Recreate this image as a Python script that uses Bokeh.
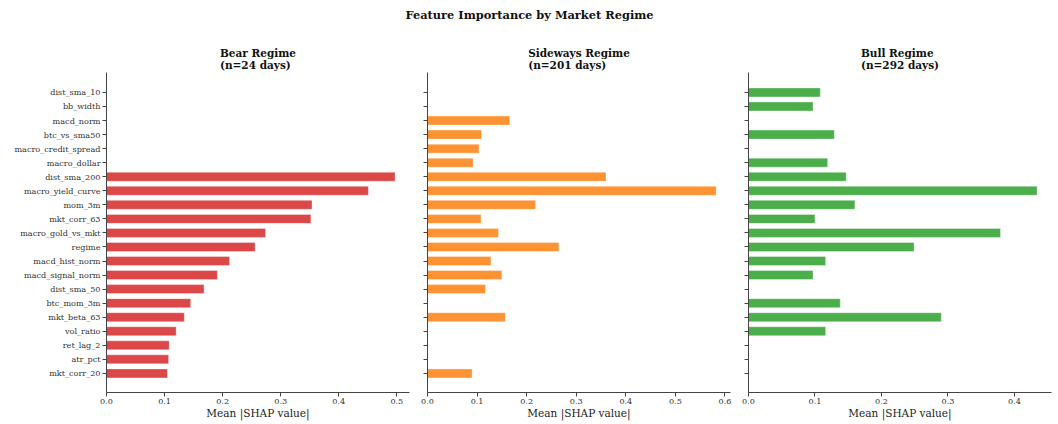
from bokeh.plotting import figure
from bokeh.layouts import column, row
from bokeh.models import Range1d, FixedTicker
from bokeh.embed import file_html
from bokeh.resources import INLINE

features = ["dist_sma_10", "bb_width", "macd_norm", "btc_vs_sma50", "macro_credit_spread",
            "macro_dollar", "dist_sma_200", "macro_yield_curve", "mom_3m", "mkt_corr_63",
            "macro_gold_vs_mkt", "regime", "macd_hist_norm", "macd_signal_norm", "dist_sma_50",
            "btc_mom_3m", "mkt_beta_63", "vol_ratio", "ret_lag_2", "atr_pct", "mkt_corr_20"]

bear_vals = [None, None, None, None, None, None, 0.497, 0.451, 0.354, 0.352, 0.274, 0.256,
             0.212, 0.191, 0.168, 0.145, 0.134, 0.120, 0.108, 0.107, 0.105]
sideways_vals = [None, None, 0.166, 0.109, 0.104, 0.092, 0.360, 0.582, 0.218, 0.108, 0.143,
                 0.265, 0.128, 0.150, 0.117, None, 0.157, None, None, None, 0.090]
bull_vals = [0.108, 0.097, None, 0.129, None, 0.119, 0.147, 0.434, 0.160, 0.100, 0.379,
             0.249, 0.116, 0.097, None, 0.138, 0.290, 0.116, None, None, None]

panels = [
    ("Bear Regime", "(n=24 days)", bear_vals, "#d62728"),
    ("Sideways Regime", "(n=201 days)", sideways_vals, "#ff7f0e"),
    ("Bull Regime", "(n=292 days)", bull_vals, "#2ca02c"),
]
suptitle = "Feature Importance by Market Regime"
xlabel = "Mean |SHAP value|"

FONT = "DejaVu Serif"
n = len(features)
ypos = [n - 1 - i for i in range(n)]
label_map = {n - 1 - i: f for i, f in enumerate(features)}

figs = []
for k, (t1, t2, vals, color) in enumerate(panels):
    vmax = max(v for v in vals if v is not None)
    left = 106 if k == 0 else 9
    right = 7 if k == 2 else 9
    p = figure(frame_width=303, frame_height=320,
               min_border_left=left, min_border_right=right,
               min_border_top=48, min_border_bottom=10,
               x_range=Range1d(0, vmax * 1.05), y_range=Range1d(-1.36, n - 1 + 1.42),
               title=t1 + "\n" + t2,
               output_backend="svg", toolbar_location=None, tools="")
    xs = [v for v in vals if v is not None]
    ys = [ypos[i] for i, v in enumerate(vals) if v is not None]
    p.hbar(y=ys, right=xs, left=0, height=0.64, fill_color=color, fill_alpha=0.85,
           line_color="white", line_width=0.6, line_alpha=0.6)
    p.title.align = "center"
    p.title.text_font = FONT
    p.title.text_font_size = "10.5px"
    p.title.text_font_style = "bold"
    p.title.text_color = "#111111"
    p.title.text_line_height = 1.0
    p.title.standoff = 3
    p.xgrid.visible = False
    p.ygrid.visible = False
    p.outline_line_color = None
    for ax in (p.xaxis[0], p.yaxis[0]):
        ax.axis_line_color = "#444444"
        ax.major_tick_line_color = "#444444"
        ax.major_tick_out = 4
        ax.major_tick_in = 0
        ax.minor_tick_line_color = None
        ax.major_label_text_font = FONT
        ax.major_label_text_font_size = "8.1px"
        ax.major_label_text_color = "#333333"
        ax.major_label_standoff = 2
    p.yaxis.ticker = FixedTicker(ticks=list(range(n)))
    if k == 0:
        p.yaxis.major_label_overrides = label_map
    else:
        p.yaxis.major_label_overrides = {i: "" for i in range(n)}
    p.xaxis.ticker = FixedTicker(ticks=[0.0, 0.1, 0.2, 0.3, 0.4, 0.5, 0.6])
    p.xaxis.major_label_overrides = {0.0: "0.0", 0.1: "0.1", 0.2: "0.2", 0.3: "0.3",
                                     0.4: "0.4", 0.5: "0.5", 0.6: "0.6"}
    p.xaxis.axis_label = xlabel
    p.xaxis.axis_label_text_font = FONT
    p.xaxis.axis_label_text_font_size = "10.5px"
    p.xaxis.axis_label_text_font_style = "normal"
    p.xaxis.axis_label_text_color = "#222222"
    p.xaxis.axis_label_standoff = 0
    figs.append(p)

total_w = sum(f.frame_width + f.min_border_left + f.min_border_right for f in figs)
header = figure(width=total_w, height=24, output_backend="svg", toolbar_location=None,
                tools="", x_range=Range1d(0, 1), y_range=Range1d(0, 1),
                min_border_left=0, min_border_right=0, min_border_top=21, min_border_bottom=0,
                title=suptitle)
header.scatter(x=[], y=[])
header.axis.visible = False
header.grid.visible = False
header.outline_line_color = None
header.title.align = "center"
header.title.standoff = 0
header.title.text_font = FONT
header.title.text_font_size = "11.4px"
header.title.text_font_style = "bold"
header.title.text_color = "#111111"

layout = column(header, row(*figs, spacing=0), spacing=0)
open("out.html", "w").write(file_html(layout, INLINE))
